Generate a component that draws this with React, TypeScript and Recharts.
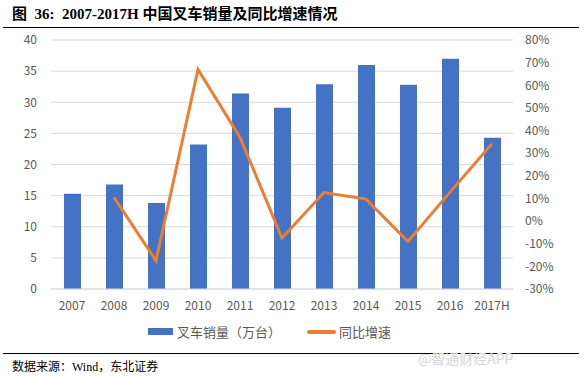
import React from "react";
import { Bar, CartesianGrid, ComposedChart, Line, XAxis, YAxis } from "recharts";

const years = ["2007", "2008", "2009", "2010", "2011", "2012", "2013", "2014", "2015", "2016", "2017H"];
const sales = [15.3, 16.8, 13.8, 23.2, 31.4, 29.1, 32.9, 36.0, 32.8, 37.0, 24.3];
const growth = [null, 10.5, -17.5, 67, 37, -7.5, 12.6, 9.7, -9, 12.8, 34.2];
const leftTicks = [0, 5, 10, 15, 20, 25, 30, 35, 40];
const rightTicks = [-30, -20, -10, 0, 10, 20, 30, 40, 50, 60, 70, 80];

const BLUE = "#4472C4";
const ORANGE = "#ED7D31";
const TICK = "#595959";
const FONT = "'Noto Sans CJK SC', 'Noto Sans', sans-serif";

const data = years.map((y, i) => ({ year: y, sales: sales[i], growth: growth[i] }));

export default function App() {
  return (
    <div style={{ position: "absolute", left: 0, top: 0, width: 586, height: 376, background: "#fff", fontFamily: FONT }}>
      <div style={{ position: "absolute", left: 12, top: 2, fontSize: 15, fontWeight: "bold", fontFamily: "'Liberation Serif', 'Noto Sans CJK SC', serif", color: "#000", whiteSpace: "nowrap" }}>
        图&nbsp;&nbsp;36:&nbsp;&nbsp;2007-2017H 中国叉车销量及同比增速情况
      </div>
      <div style={{ position: "absolute", left: 3, top: 27, width: 576, height: 1, background: "#000" }} />

      <div style={{ position: "absolute", left: 0, top: 0 }}>
        <ComposedChart width={586} height={330} data={data} margin={{ top: 40, right: 0, left: 0, bottom: 11 }}>
          <CartesianGrid yAxisId="l" vertical={false} stroke="#d9d9d9" strokeWidth={1} />
          <XAxis
            dataKey="year"
            axisLine={{ stroke: "#d9d9d9" }}
            tickLine={false}
            tick={{ fill: TICK, fontSize: 12, fontFamily: FONT }}
            tickMargin={6}
            interval={0}
          />
          <YAxis
            yAxisId="l"
            domain={[0, 40]}
            ticks={leftTicks}
            interval={0}
            width={51}
            axisLine={false}
            tickLine={false}
            tick={{ fill: TICK, fontSize: 12, fontFamily: FONT }}
            tickMargin={8}
          />
          <YAxis
            yAxisId="r"
            orientation="right"
            domain={[-30, 80]}
            ticks={rightTicks}
            interval={0}
            width={73}
            axisLine={false}
            tickLine={false}
            tick={{ fill: TICK, fontSize: 12, fontFamily: FONT }}
            tickFormatter={(v: number) => `${v}%`}
            tickMargin={6}
          />
          <Bar yAxisId="l" dataKey="sales" fill={BLUE} barSize={17} isAnimationActive={false} />
          <Line
            yAxisId="r"
            dataKey="growth"
            type="linear"
            stroke={ORANGE}
            strokeWidth={3}
            dot={false}
            connectNulls={false}
            isAnimationActive={false}
          />
        </ComposedChart>
      </div>

      <div style={{ position: "absolute", top: 322, left: 148, display: "flex", alignItems: "center", fontSize: 13, color: TICK, whiteSpace: "nowrap" }}>
        <span style={{ display: "inline-block", width: 25, height: 7, background: BLUE, marginRight: 4 }} />
        <span>叉车销量（万台）</span>
        <span style={{ display: "inline-block", width: 29, height: 4, borderRadius: 2, background: ORANGE, marginLeft: 26, marginRight: 3 }} />
        <span>同比增速</span>
      </div>

      <div style={{ position: "absolute", left: 3, top: 353, width: 576, height: 1, background: "#000" }} />
      <div style={{ position: "absolute", left: 12, top: 357, fontSize: 12, fontFamily: "'Liberation Serif', 'Noto Sans CJK SC', serif", color: "#000", whiteSpace: "nowrap" }}>
        数据来源：Wind，东北证券
      </div>
      <div style={{ position: "absolute", left: 418, top: 348, fontSize: 14, color: "#d6d6d6", whiteSpace: "nowrap" }}>
        @智通财经APP
      </div>
    </div>
  );
}
